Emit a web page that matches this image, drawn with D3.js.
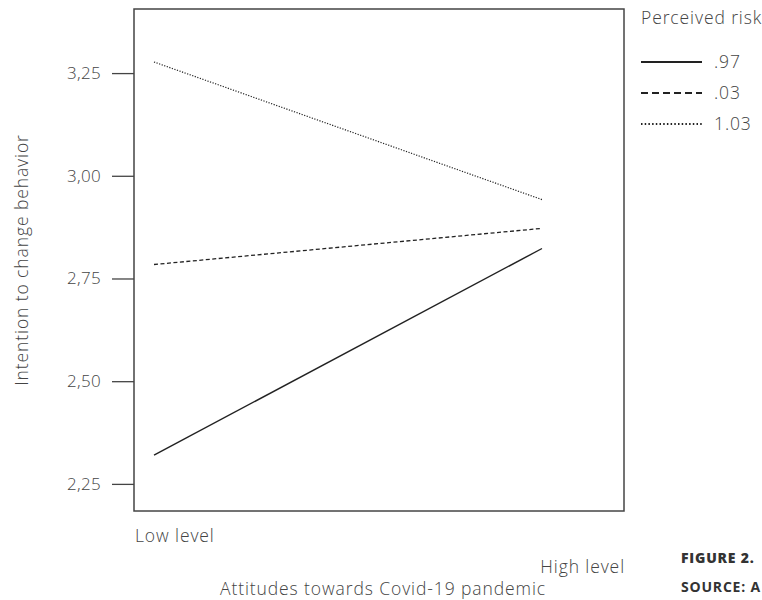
<!DOCTYPE html>
<html><head><meta charset="utf-8">
<script src="https://cdn.jsdelivr.net/npm/d3@7"></script>
<style>
html,body{margin:0;padding:0;background:#fff;overflow:hidden}
text{font-family:"Open Sans",sans-serif;}
</style></head>
<body><svg id="c" width="762" height="600"></svg>
<script>
const categories = ["Low level", "High level"];
const seriesNames = [".97", ".03", "1.03"];
const seriesSolid = [2.32, 2.823];
const seriesDashed = [2.784, 2.872];
const seriesDotted = [3.277, 2.942];
const yTicks = [2.25, 2.50, 2.75, 3.00, 3.25];
const yTickLabels = ["2,25", "2,50", "2,75", "3,00", "3,25"];
const legendTitle = "Perceived risk";
const xTitle = "Attitudes towards Covid-19 pandemic";
const yTitle = "Intention to change behavior";

const svg = d3.select("#c");
const L = 134, R = 624, T = 9, B = 511;
const y = d3.scaleLinear().domain([2.184, 3.406]).range([B, T]);
const x = d3.scalePoint().domain(categories).range([154, 542]);
const ink = "#444";
const FS = "17.5px", LS = "0.9px";
function lab(sel){ return sel.attr("fill", ink).style("font-size", FS).style("font-weight", 300).style("letter-spacing", LS); }

svg.append("rect").attr("x", L).attr("y", T).attr("width", R - L).attr("height", B - T)
  .attr("fill", "none").attr("stroke", ink).attr("stroke-width", 1.5);

const yAxis = d3.axisLeft(y).tickValues(yTicks).tickSize(22).tickPadding(11)
  .tickFormat((d, i) => yTickLabels[i]);
const gy = svg.append("g").attr("transform", `translate(${L},0)`).call(yAxis);
gy.select(".domain").remove();
gy.selectAll(".tick line").attr("stroke", ink).attr("stroke-width", 1.3);
gy.selectAll(".tick text").attr("fill", ink).style("font-size", "17px").style("font-weight", 300).style("letter-spacing", "0.3px");

const series = [
  {name: seriesNames[0], v: seriesSolid, dash: null, w: 1.4},
  {name: seriesNames[1], v: seriesDashed, dash: "4,2.5", w: 1.3},
  {name: seriesNames[2], v: seriesDotted, dash: "1.2,1.5", w: 1.2}
];
const line = d3.line().x((d, i) => x(categories[i])).y(d => y(d));
series.forEach(s => {
  svg.append("path").datum(s.v).attr("d", line).attr("fill", "none")
    .attr("stroke", "#222").attr("stroke-width", s.w)
    .attr("stroke-dasharray", s.dash);
});

lab(svg.append("text").attr("x", 135).attr("y", 542)).text(categories[0]);
lab(svg.append("text").attr("x", R + 1).attr("y", 573).attr("text-anchor", "end")).text(categories[1]);
lab(svg.append("text").attr("x", 383).attr("y", 595).attr("text-anchor", "middle")).text(xTitle);
lab(svg.append("text").attr("transform", "translate(28,260) rotate(-90)").attr("text-anchor", "middle")).text(yTitle);

lab(svg.append("text").attr("x", 641).attr("y", 24)).text(legendTitle);
series.forEach((s, i) => {
  const ly = 62 + i * 31;
  svg.append("line").attr("x1", 641).attr("x2", 702).attr("y1", ly).attr("y2", ly)
    .attr("stroke", "#222").attr("stroke-width", s.dash ? 2 : 2.2)
    .attr("stroke-dasharray", s.dash ? (i === 1 ? "7,4" : "1.5,2.2") : null);
  lab(svg.append("text").attr("x", 714).attr("y", ly + 6)).text(s.name);
});

svg.append("text").attr("x", 681).attr("y", 563).attr("fill", "#333")
  .style("font-size", "14px").style("font-weight", 800).style("letter-spacing", "0.8px").text("FIGURE 2.");
svg.append("text").attr("x", 681).attr("y", 592).attr("fill", "#333")
  .style("font-size", "14px").style("font-weight", 700).style("letter-spacing", "0.8px").text("SOURCE: A");
</script></body></html>
